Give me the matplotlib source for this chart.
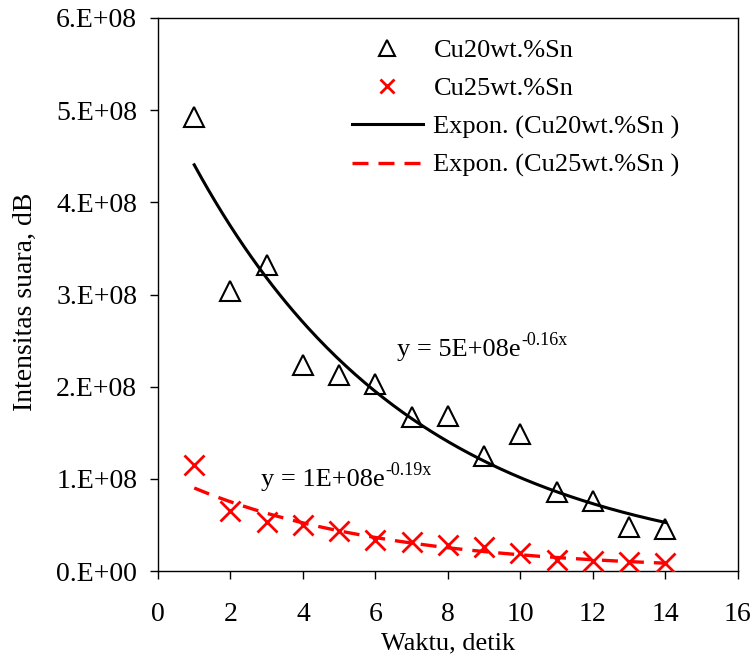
import numpy as np
import matplotlib.pyplot as plt
from matplotlib.transforms import offset_copy

plt.rcParams["font.family"] = ["Liberation Serif", "DejaVu Serif"]

# Data
waktu = [1, 2, 3, 4, 5, 6, 7, 8, 9, 10, 11, 12, 13, 14]
cu20 = [4.93e8, 3.04e8, 3.32e8, 2.24e8, 2.13e8, 2.03e8, 1.67e8,
        1.68e8, 1.25e8, 1.49e8, 0.86e8, 0.76e8, 0.48e8, 0.46e8]
cu25 = [1.15e8, 0.65e8, 0.53e8, 0.50e8, 0.43e8, 0.34e8, 0.31e8,
        0.28e8, 0.26e8, 0.20e8, 0.12e8, 0.11e8, 0.10e8, 0.09e8]


def expon_fit(x, y):
    # Excel-style exponential trendline (least squares on ln y)
    b, ln_a = np.polyfit(x, np.log(y), 1)
    return np.exp(ln_a), b


x = np.array(waktu, dtype=float)
xs = np.linspace(x.min(), x.max(), 200)
a20, b20 = expon_fit(x, np.array(cu20))
a25, b25 = expon_fit(x, np.array(cu25))

fig = plt.figure(figsize=(7.53, 6.59), dpi=100)
ax = fig.add_axes([0.2098, 0.1335, 0.7702, 0.8392])

ax.plot(waktu, cu20, linestyle="none", marker="^", markersize=15,
        markerfacecolor="none", markeredgecolor="black", markeredgewidth=1.5,
        label="Cu20wt.%Sn", zorder=3)
ax.plot(waktu, cu25, linestyle="none", marker="x", markersize=14,
        color="red", markeredgewidth=2, label="Cu25wt.%Sn", zorder=3)
ax.plot(xs, a20 * np.exp(b20 * xs), color="black", linewidth=2.2,
        label="Expon. (Cu20wt.%Sn )", zorder=2)
ax.plot(xs, a25 * np.exp(b25 * xs), color="red", linewidth=2.4,
        linestyle=(0, (4.8, 3)), label="Expon. (Cu25wt.%Sn )", zorder=2)

ax.set_xlim(0, 16)
ax.set_ylim(0, 6e8)
ax.set_xticks(np.arange(0, 17, 2))
ax.set_yticks(np.arange(0, 6.1e8, 1e8))
ax.set_yticklabels([f"{i}.E+{'08' if i else '00'}" for i in range(7)])
ax.tick_params(direction="out", length=6, width=1, labelsize=20)
ax.tick_params(axis="x", pad=16)
ax.tick_params(axis="y", pad=9)
for s in ax.spines.values():
    s.set_linewidth(1)

ax.set_xlabel("Waktu, detik", fontsize=19, labelpad=4)
ax.set_ylabel("Intensitas suara, dB", fontsize=20)
ax.yaxis.set_label_coords(-0.207, 0.486)


def equation(xd, yd, base, sup):
    # base text plus a small raised exponent, like the Excel trendline label
    t = ax.text(xd, yd, base, fontsize=19, ha="left", va="baseline")
    fig.canvas.draw()
    bb = t.get_window_extent()
    x_end = ax.transData.inverted().transform((bb.x1, bb.y0))[0]
    tr = offset_copy(ax.transData, fig=fig, x=0.5, y=8, units="points")
    ax.text(x_end, yd, sup, fontsize=13, ha="left", va="baseline", transform=tr)


# Trendline equations
equation(6.6, 2.33e8, "y = 5E+08e", "-0.16x")
equation(2.85, 0.92e8, "y = 1E+08e", "-0.19x")

ax.legend(loc="upper left", bbox_to_anchor=(0.334, 0.962), frameon=False,
          fontsize=19, handlelength=2.7, handletextpad=0.4, labelspacing=0.55,
          borderpad=0, borderaxespad=0, markerscale=0.75)

fig.savefig("out.png", dpi=100)
